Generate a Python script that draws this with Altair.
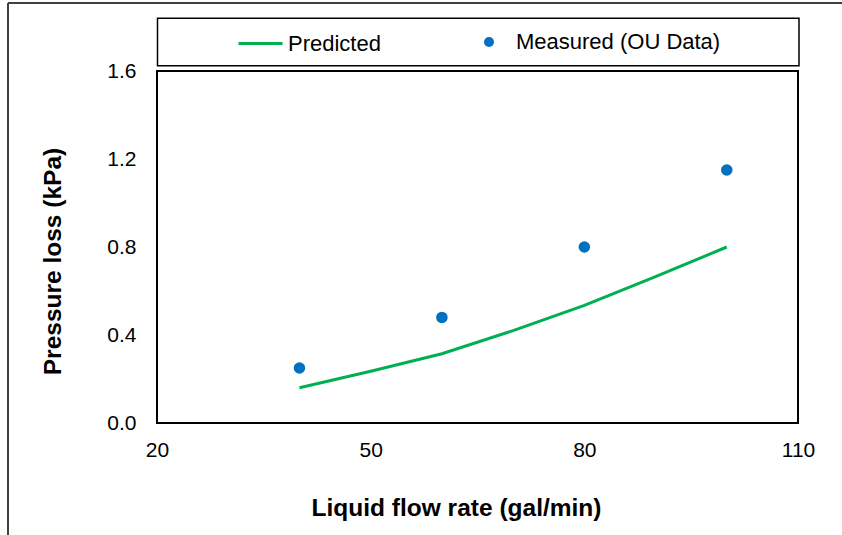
import altair as alt
import pandas as pd

# ---- data ----
pred_flow = [40, 50, 60, 70, 80, 90, 100]
pred_loss = [0.16, 0.235, 0.315, 0.42, 0.535, 0.665, 0.80]
meas_flow = [40, 60, 80, 100]
meas_loss = [0.25, 0.48, 0.80, 1.15]
x_ticks = [20, 50, 80, 110]
y_ticks = [0.0, 0.4, 0.8, 1.2, 1.6]
series_names = ["Predicted", "Measured (OU Data)"]

pred_df = pd.DataFrame({"flow": pred_flow, "loss": pred_loss, "series": series_names[0]})
meas_df = pd.DataFrame({"flow": meas_flow, "loss": meas_loss, "series": series_names[1]})

FONT = "Liberation Sans"
GREEN = "#00B050"
BLUE = "#0070C0"

x_scale = alt.Scale(domain=[20, 110], nice=False, zero=False)
y_scale = alt.Scale(domain=[0, 1.6], nice=False)

x_axis = alt.Axis(
    values=x_ticks, title="Liquid flow rate (gal/min)", grid=False, ticks=False,
    tickSize=0, domain=False, labelFont=FONT, labelFontSize=21, labelColor="#000",
    labelPadding=16, labelFlush=False, labelOverlap=False,
    titleFont=FONT, titleFontSize=24.5, titleFontWeight="bold",
    titleColor="#000", titleX=299, titleY=92, titleBaseline="alphabetic",
    titleAlign="center",
)
y_axis = alt.Axis(
    values=y_ticks, format=".1f", title="Pressure loss (kPa)", grid=False,
    ticks=False, tickSize=0, domain=False, labelFont=FONT, labelFontSize=21,
    labelColor="#000", labelPadding=21, labelFlush=False, labelOverlap=False,
    titleFont=FONT, titleFontSize=24.5,
    titleFontWeight="bold", titleColor="#000", titleX=-97, titleY=190,
    titleBaseline="alphabetic", titleAlign="center", titleAngle=270,
)

one = alt.Data(values=[{"k": 1}])

frame_left = alt.Chart(one).mark_rule(stroke="#404040", strokeWidth=2).encode(
    x=alt.value(-149), y=alt.value(-68), y2=alt.value(480)
)
frame_top = alt.Chart(one).mark_rule(stroke="#404040", strokeWidth=2).encode(
    x=alt.value(-149), x2=alt.value(700), y=alt.value(-68)
)
legend_box = alt.Chart(one).mark_rect(fill="white", stroke="#000", strokeWidth=1.5).encode(
    x=alt.value(0.5), x2=alt.value(642), y=alt.value(-52.7), y2=alt.value(-5.3)
)

line = alt.Chart(pred_df).mark_line(strokeWidth=3).encode(
    x=alt.X("flow:Q", scale=x_scale, axis=x_axis),
    y=alt.Y("loss:Q", scale=y_scale, axis=y_axis),
    stroke=alt.Stroke(
        "series:N",
        scale=alt.Scale(domain=[series_names[0]], range=[GREEN]),
        legend=alt.Legend(
            orient="none", legendX=80, legendY=-51, title=None, symbolType="stroke",
            symbolSize=1936, symbolStrokeWidth=3, labelFont=FONT, labelFontSize=22,
            labelColor="#000", padding=0, labelOffset=4, labelLimit=0,
        ),
    ),
)

points = alt.Chart(meas_df).mark_circle(size=133, opacity=1).encode(
    x=alt.X("flow:Q", scale=x_scale, axis=x_axis),
    y=alt.Y("loss:Q", scale=y_scale, axis=y_axis),
    fill=alt.Fill(
        "series:N",
        scale=alt.Scale(domain=[series_names[1]], range=[BLUE]),
        legend=alt.Legend(
            orient="none", legendX=321, legendY=-40, title=None, symbolType="circle",
            symbolSize=100, symbolStrokeWidth=0, symbolOpacity=1, labelFont=FONT,
            labelFontSize=22, labelColor="#000", padding=0, labelOffset=16,
            labelLimit=0,
        ),
    ),
)

chart = alt.layer(frame_left, frame_top, legend_box, line, points).resolve_scale(
    stroke="independent", fill="independent"
).properties(
    width=641, height=352,
    autosize=alt.AutoSizeParams(type="none"),
    padding={"left": 157, "top": 71, "right": 44, "bottom": 112},
    background="white",
).configure_view(stroke="#000", strokeWidth=2)

chart.save("out.html", embed_options={"renderer": "svg", "actions": False})
